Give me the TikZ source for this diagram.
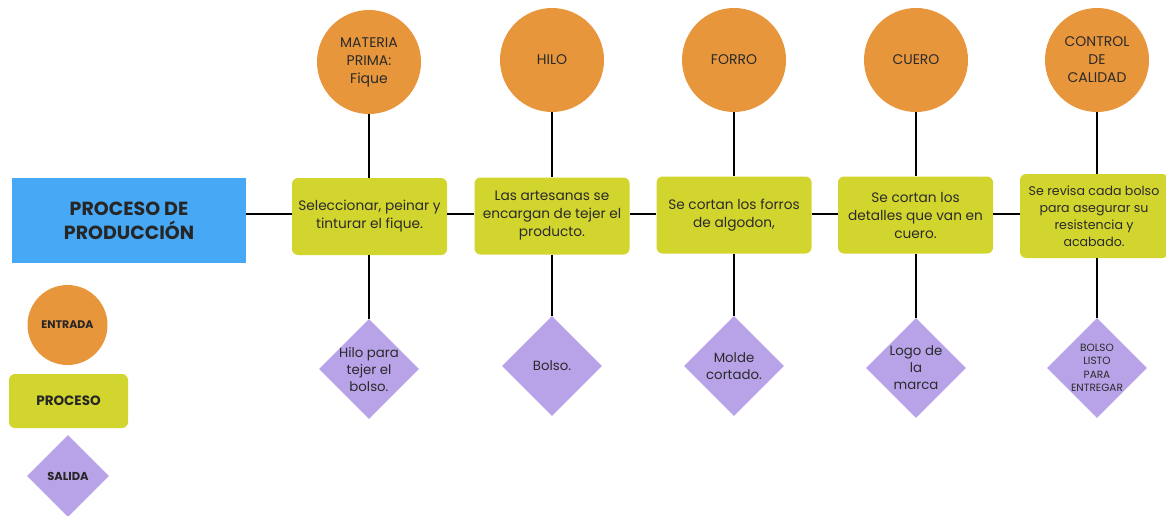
\documentclass[tikz,border=0pt]{standalone}
\usepackage{fontspec}
\setmainfont{Poppins}
\usetikzlibrary{shapes.geometric}
\definecolor{orng}{HTML}{E8963C}
\definecolor{lime}{HTML}{D3D52F}
\definecolor{lilac}{HTML}{B8A2E8}
\definecolor{skyb}{HTML}{47A9F6}
\definecolor{txt}{HTML}{2A2A2A}
\tikzset{
  entrada/.style={circle,fill=orng,minimum size=104pt,inner sep=0pt,align=center,font=\fontsize{14}{18}\selectfont,text=txt},
  proc/.style={rectangle,rounded corners=6pt,fill=lime,minimum width=155pt,minimum height=77pt,inner sep=2pt,align=center,font=\fontsize{13.7}{18}\selectfont,text=txt},
  salida/.style={diamond,fill=lilac,minimum size=100pt,inner sep=0pt},
  stext/.style={align=center,inner sep=0pt,font=\fontsize{13.3}{17}\selectfont,text=txt},
  conn/.style={draw=black,line width=1.4pt},
}
\begin{document}
\begin{tikzpicture}[x=1pt,y=-1pt]
\useasboundingbox (0,0) rectangle (1166,516);
% main title
\node[rectangle,fill=skyb,minimum width=234pt,minimum height=85pt,align=center,font=\fontsize{19}{24}\selectfont\bfseries,text=black!85] (main) at (129,220.5) {PROCESO DE\\PRODUCCIÓN};
% process boxes
\node[proc] (p1) at (369.5,216.5) {Seleccionar, peinar y\\tinturar el fique.};
\node[proc] (p2) at (552,216) {Las artesanas se\\encargan de tejer el\\producto.};
\node[proc] (p3) at (734,215) {Se cortan los forros\\de algodon,};
\node[proc] (p4) at (915.5,215) {Se cortan los\\detalles que van en\\cuero.};
\node[proc,minimum width=148pt,minimum height=84pt,font=\fontsize{12.6}{17}\selectfont] (p5) at (1094,216) {Se revisa cada bolso\\para asegurar su\\resistencia y\\acabado.};
% inputs
\node[entrada] (e1) at (369,62) {MATERIA\\PRIMA:\\Fique};
\node[entrada] (e2) at (552,60) {HILO};
\node[entrada] (e3) at (734,60) {FORRO};
\node[entrada] (e4) at (916,60) {CUERO};
\node[entrada] (e5) at (1097,60) {CONTROL\\DE\\CALIDAD};
% outputs
\node[salida] (s1) at (369,369) {};
\node[salida] (s2) at (552,366) {};
\node[salida] (s3) at (734,366) {};
\node[salida] (s4) at (916,368) {};
\node[salida] (s5) at (1097,368) {};
\node[stext] (t1) at (s1) {Hilo para\\tejer el\\bolso.};
\node[stext] (t2) at (s2) {Bolso.};
\node[stext] (t3) at (s3) {Molde\\cortado.};
\node[stext] (t4) at (s4) {Logo de\\la\\marca};
\node[stext,font=\fontsize{10.5}{13.5}\selectfont] (t5) at (s5) {BOLSO\\LISTO\\PARA\\ENTREGAR};
% connectors
\draw[conn] (main.east |- 0,214) -- (p1.west |- 0,214);
\draw[conn] (p1.east |- 0,214) -- (p2.west |- 0,214);
\draw[conn] (p2.east |- 0,214) -- (p3.west |- 0,214);
\draw[conn] (p3.east |- 0,214) -- (p4.west |- 0,214);
\draw[conn] (p4.east |- 0,214) -- (p5.west |- 0,214);
\foreach \i in {1,...,5}{
  \draw[conn] (e\i.south) -- (e\i.south |- p\i.north);
  \draw[conn] (s\i.north |- p\i.south) -- (s\i.north);
}
% legend
\node[circle,fill=orng,minimum size=80pt,inner sep=0pt,font=\fontsize{11}{13}\selectfont\bfseries,text=black!85] (le) at (67.5,325) {ENTRADA};
\node[rectangle,rounded corners=6pt,fill=lime,minimum width=119pt,minimum height=54pt,font=\fontsize{13.5}{16}\selectfont\bfseries,text=black!85] (lp) at (68.5,401) {PROCESO};
\node[diamond,fill=lilac,minimum size=82pt,inner sep=0pt] (ls) at (68,476) {};
\node[inner sep=0pt,font=\fontsize{11.5}{13}\selectfont\bfseries,text=black!85] (lst) at (ls) {SALIDA};
\end{tikzpicture}
\end{document}
